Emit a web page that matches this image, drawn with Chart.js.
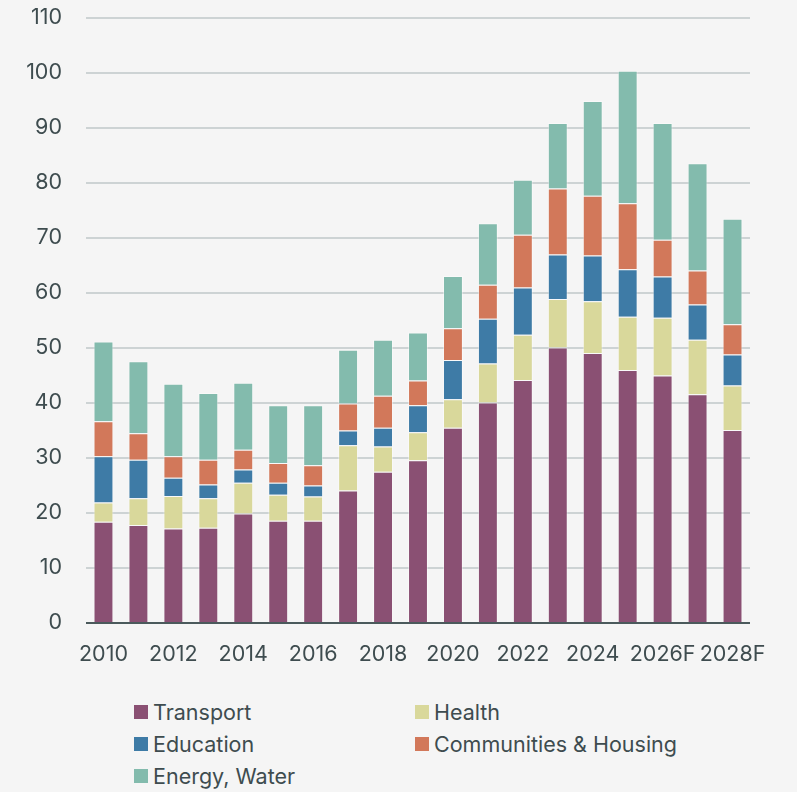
<!DOCTYPE html>
<html>
<head>
<meta charset="utf-8">
<script src="https://cdn.jsdelivr.net/npm/chart.js@4"></script>
<style>
    html, body { margin: 0; padding: 0; background: #f5f5f5; }
    #wrap { position: relative; width: 797px; height: 792px; }
    #chart { position: absolute; left: 0; top: 0; }
    .legend-item { position: absolute; font-family: Inter, sans-serif; font-size: 21.5px; color: #3e4c4f; line-height: 24px; white-space: nowrap; }
    .legend-item span.box { position: absolute; left: 0; top: 5px; width: 14px; height: 14px; }
    .legend-item span.txt { position: absolute; left: 19px; top: 0; }
</style>
</head>
<body>
<div id="wrap">
    <canvas id="chart" width="797" height="680"></canvas>
    <div id="legend"></div>
</div>
<script>
// Jahre / Kategorien
const years = ['2010', '2011', '2012', '2013', '2014', '2015', '2016', '2017', '2018', '2019',
    '2020', '2021', '2022', '2023', '2024', '2025', '2026F', '2027F', '2028F'];

// Werte je Sektor
const transport = [18.4, 17.8, 17.2, 17.3, 19.9, 18.6, 18.6, 24.1, 27.5, 29.6, 35.5, 40.1, 44.2, 50.1, 49.1, 46.0, 45.0, 41.6, 35.1];
const health = [3.5, 4.9, 5.9, 5.4, 5.6, 4.7, 4.4, 8.2, 4.6, 5.1, 5.2, 7.1, 8.2, 8.8, 9.4, 9.7, 10.5, 9.9, 8.1];
const education = [8.4, 7.0, 3.3, 2.5, 2.4, 2.2, 2.0, 2.7, 3.4, 4.9, 7.1, 8.1, 8.6, 8.1, 8.3, 8.6, 7.5, 6.4, 5.6];
const communities = [6.4, 4.8, 3.9, 4.5, 3.6, 3.6, 3.7, 4.9, 5.8, 4.5, 5.8, 6.2, 9.6, 12.0, 10.9, 12.0, 6.7, 6.2, 5.5];
const energyWater = [14.5, 13.1, 13.2, 12.1, 12.2, 10.5, 10.9, 9.8, 10.2, 8.7, 9.5, 11.2, 10.0, 11.9, 17.2, 24.1, 21.2, 19.5, 19.2];

const seriesNames = ['Transport', 'Health', 'Education', 'Communities & Housing', 'Energy, Water'];
const seriesColors = ['#8a5073', '#d9d89b', '#3e7ba6', '#d2785a', '#83bbad'];
const seriesValues = [transport, health, education, communities, energyWater];

const textColor = '#3e4c4f';
Chart.defaults.font.family = 'Inter, sans-serif';
Chart.defaults.font.size = 21.5;
Chart.defaults.color = textColor;

const ctx = document.getElementById('chart').getContext('2d');
const chart = new Chart(ctx, {
    type: 'bar',
    data: {
        labels: years,
        datasets: seriesNames.map((name, i) => ({
            label: name,
            data: seriesValues[i],
            backgroundColor: seriesColors[i],
            borderColor: 'rgba(255, 255, 255, 0.45)',
            borderWidth: 1,
            categoryPercentage: 1,
            barPercentage: 0.57
        }))
    },
    options: {
        responsive: false,
        animation: false,
        layout: {
            padding: { top: 18, right: 47, bottom: 0, left: 0 }
        },
        scales: {
            x: {
                stacked: true,
                afterFit: (scale) => { scale.height = 57; scale.paddingLeft = 0; scale.paddingRight = 0; },
                grid: { display: false, drawTicks: false },
                border: { display: false },
                ticks: {
                    autoSkip: false,
                    maxRotation: 0,
                    padding: 19,
                    callback: function (val, idx) {
                        return idx % 2 === 0 ? this.getLabelForValue(val) : '';
                    }
                }
            },
            y: {
                stacked: true,
                min: 0,
                max: 110,
                afterFit: (scale) => { scale.width = 86; scale.paddingTop = 0; scale.paddingBottom = 0; },
                ticks: { stepSize: 10, padding: 24 },
                border: { display: false },
                grid: {
                    drawTicks: false,
                    lineWidth: 2,
                    color: (c) => c.tick && c.tick.value === 0 ? '#4b5a5c' : '#cdd3d4'
                }
            }
        },
        plugins: {
            legend: { display: false },
            tooltip: { enabled: false }
        }
    }
});

// Legende in zwei Spalten
const legendEl = document.getElementById('legend');
const colX = [134, 415];
const rowY = [700, 732, 764];
chart.data.datasets.forEach((ds, i) => {
    const item = document.createElement('div');
    item.className = 'legend-item';
    item.style.left = colX[i % 2] + 'px';
    item.style.top = rowY[Math.floor(i / 2)] + 'px';
    item.innerHTML = '<span class="box" style="background:' + ds.backgroundColor + '"></span><span class="txt">' + ds.label + '</span>';
    legendEl.appendChild(item);
});
</script>
</body>
</html>
